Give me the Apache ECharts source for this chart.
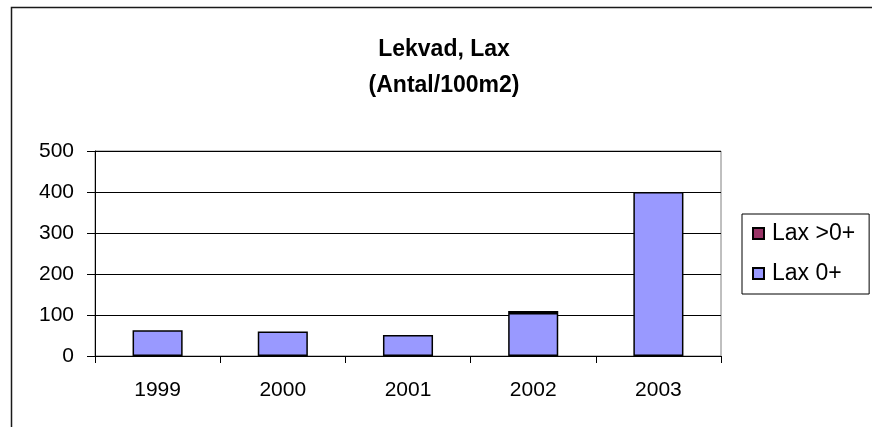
<!DOCTYPE html>
<html>
<head>
<meta charset="utf-8">
<script src="https://cdn.jsdelivr.net/npm/echarts@6/dist/echarts.min.js"></script>
<style>
html,body{margin:0;padding:0;background:#fff;}
#c{width:872px;height:427px;}
</style>
</head>
<body>
<div id="c"></div>
<script>
const categories = ['1999', '2000', '2001', '2002', '2003'];
const lax0 = [63, 60, 51, 105, 400];
const laxOver0 = [0, 0, 0, 5, 0];
const yTicks = [0, 100, 200, 300, 400, 500];

const FONT = '"Liberation Sans", Arial, sans-serif';
const nz = arr => arr.map(v => (v === 0 ? '-' : v));
const chart = echarts.init(document.getElementById('c'), null, {renderer: 'canvas'});
chart.setOption({
  animation: false,
  backgroundColor: '#fff',
  textStyle: {fontFamily: FONT},
  graphic: [{
    type: 'rect', left: 9, top: 5, silent: true,
    shape: {x: 0, y: 0, width: 900, height: 500},
    style: {fill: 'none', stroke: '#1a1a1a', lineWidth: 1.5}
  }],
  title: {
    text: 'Lekvad, Lax\n(Antal/100m2)',
    left: 439, top: 27, textAlign: 'center',
    textStyle: {fontFamily: FONT, fontWeight: 'bold', fontSize: 23, lineHeight: 36, color: '#000'}
  },
  legend: {
    orient: 'vertical',
    left: 742, top: 214,
    padding: [8, 14, 9, 10],
    itemGap: 17,
    itemWidth: 11, itemHeight: 11,
    borderColor: '#000', borderWidth: 1,
    data: ['Lax >0+', 'Lax 0+'],
    textStyle: {fontFamily: FONT, fontSize: 23, color: '#000', padding: [0, 0, 0, 3]},
    icon: 'rect'
  },
  grid: {left: 95, right: 151, top: 151, bottom: 71, show: true, borderColor: '#808080', borderWidth: 1},
  xAxis: {
    type: 'category', data: categories,
    axisLine: {lineStyle: {color: '#000', width: 1}},
    axisTick: {show: true, length: 7, lineStyle: {color: '#000'}},
    axisLabel: {fontFamily: FONT, fontSize: 21, color: '#000', margin: 24}
  },
  yAxis: {
    type: 'value', min: yTicks[0], max: yTicks[yTicks.length - 1], interval: 100,
    axisLine: {show: true, lineStyle: {color: '#000', width: 1}},
    axisTick: {show: true, length: 8, lineStyle: {color: '#000'}},
    axisLabel: {fontFamily: FONT, fontSize: 21, color: '#000', margin: 21},
    splitLine: {show: true, lineStyle: {color: '#000', width: 1}}
  },
  series: [
    {name: 'Lax 0+', type: 'bar', stack: 's', data: nz(lax0), barWidth: '40%',
     itemStyle: {color: '#9999FF', borderColor: '#000', borderWidth: 1.5}},
    {name: 'Lax >0+', type: 'bar', stack: 's', data: nz(laxOver0), barWidth: '40%',
     itemStyle: {color: '#993366', borderColor: '#000', borderWidth: 1.5}}
  ]
});
</script>
</body>
</html>
